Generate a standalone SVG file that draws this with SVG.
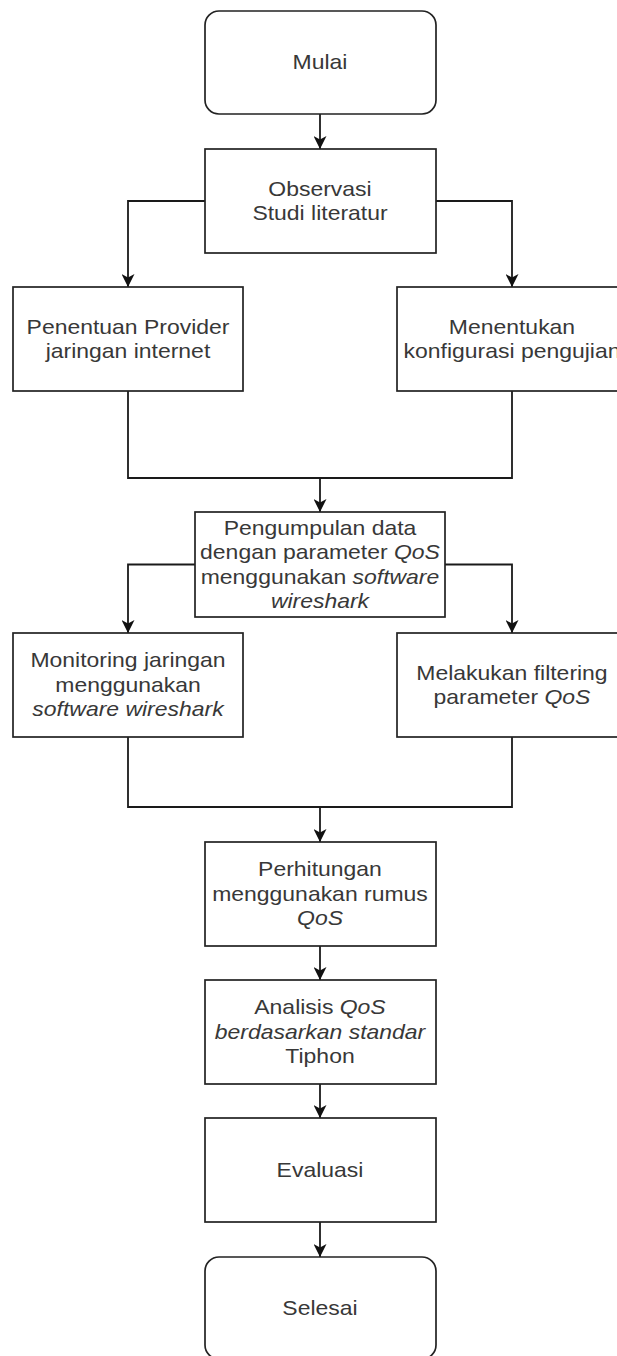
<svg xmlns="http://www.w3.org/2000/svg" width="617" height="1356" viewBox="0 0 617 1356">
<style>
.box{fill:#fff;stroke:#222;stroke-width:1.7}
.ln{fill:none;stroke:#1a1a1a;stroke-width:1.8}
text{font-family:"Liberation Sans",Arial,sans-serif;font-size:20.5px;fill:#383838;text-anchor:middle}
.i{font-style:italic}
</style>
<defs>
<marker id="ah" viewBox="0 0 13 13" refX="13" refY="6.5" markerWidth="13" markerHeight="13" markerUnits="userSpaceOnUse" orient="auto">
<path d="M0,0 L13,6.5 L0,13 L3.5,6.5 Z" fill="#111"/>
</marker>
</defs>
<rect width="617" height="1356" fill="#fff"/>
<g id="connectors">
<path class="ln" d="M320,114 V149" marker-end="url(#ah)"/>
<path class="ln" d="M205,201 H128 V287" marker-end="url(#ah)"/>
<path class="ln" d="M436,201 H512 V287" marker-end="url(#ah)"/>
<path class="ln" d="M128,391 V478 H512 V391"/>
<path class="ln" d="M320,478 V512" marker-end="url(#ah)"/>
<path class="ln" d="M195,564.5 H128 V633" marker-end="url(#ah)"/>
<path class="ln" d="M445,564.5 H512 V633" marker-end="url(#ah)"/>
<path class="ln" d="M128,737 V807 H512 V737"/>
<path class="ln" d="M320,807 V842" marker-end="url(#ah)"/>
<path class="ln" d="M320,946 V980" marker-end="url(#ah)"/>
<path class="ln" d="M320,1084 V1118" marker-end="url(#ah)"/>
<path class="ln" d="M320,1222 V1257" marker-end="url(#ah)"/>
</g>
<g id="mulai">
<rect class="box" x="205" y="11" width="231" height="103" rx="14"/>
<g transform="matrix(1.12,0,0,1,-38.4,0)"><text x="320" y="69.5">Mulai</text></g>
</g>
<g id="observasi">
<rect class="box" x="205" y="149" width="231" height="104"/>
<g transform="matrix(1.12,0,0,1,-38.4,0)"><text x="320" y="196">Observasi</text><text x="320" y="220">Studi literatur</text></g>
</g>
<g id="penentuan">
<rect class="box" x="13" y="287" width="230" height="104"/>
<g transform="matrix(1.12,0,0,1,-15.36,0)"><text x="128" y="334">Penentuan Provider</text><text x="128" y="358">jaringan internet</text></g>
</g>
<g id="menentukan">
<rect class="box" x="397" y="287" width="230" height="104"/>
<g transform="matrix(1.12,0,0,1,-61.44,0)"><text x="512" y="334">Menentukan</text><text x="512" y="358">konfigurasi pengujian</text></g>
</g>
<g id="pengumpulan">
<rect class="box" x="195" y="512" width="250" height="105"/>
<g transform="matrix(1.12,0,0,1,-38.4,0)"><text x="320" y="535">Pengumpulan data</text><text x="320" y="559">dengan parameter <tspan class="i">QoS</tspan></text><text x="320" y="584">menggunakan <tspan class="i">software</tspan></text><text x="320" y="608" class="i">wireshark</text></g>
</g>
<g id="monitoring">
<rect class="box" x="13" y="633" width="230" height="104"/>
<g transform="matrix(1.12,0,0,1,-15.36,0)"><text x="128" y="667.5">Monitoring jaringan</text><text x="128" y="692">menggunakan</text><text x="128" y="716.5" class="i">software wireshark</text></g>
</g>
<g id="melakukan">
<rect class="box" x="397" y="633" width="230" height="104"/>
<g transform="matrix(1.12,0,0,1,-61.44,0)"><text x="512" y="680">Melakukan filtering</text><text x="512" y="704">parameter <tspan class="i">QoS</tspan></text></g>
</g>
<g id="perhitungan">
<rect class="box" x="205" y="842" width="231" height="104"/>
<g transform="matrix(1.12,0,0,1,-38.4,0)"><text x="320" y="876.5">Perhitungan</text><text x="320" y="901">menggunakan rumus</text><text x="320" y="925.5" class="i">QoS</text></g>
</g>
<g id="analisis">
<rect class="box" x="205" y="980" width="231" height="104"/>
<g transform="matrix(1.12,0,0,1,-38.4,0)"><text x="320" y="1014.5">Analisis <tspan class="i">QoS</tspan></text><text x="320" y="1039" class="i">berdasarkan standar</text><text x="320" y="1063.5">Tiphon</text></g>
</g>
<g id="evaluasi">
<rect class="box" x="205" y="1118" width="231" height="104"/>
<g transform="matrix(1.12,0,0,1,-38.4,0)"><text x="320" y="1177">Evaluasi</text></g>
</g>
<g id="selesai">
<rect class="box" x="205" y="1257" width="231" height="102" rx="14"/>
<g transform="matrix(1.12,0,0,1,-38.4,0)"><text x="320" y="1315">Selesai</text></g>
</g>
</svg>
